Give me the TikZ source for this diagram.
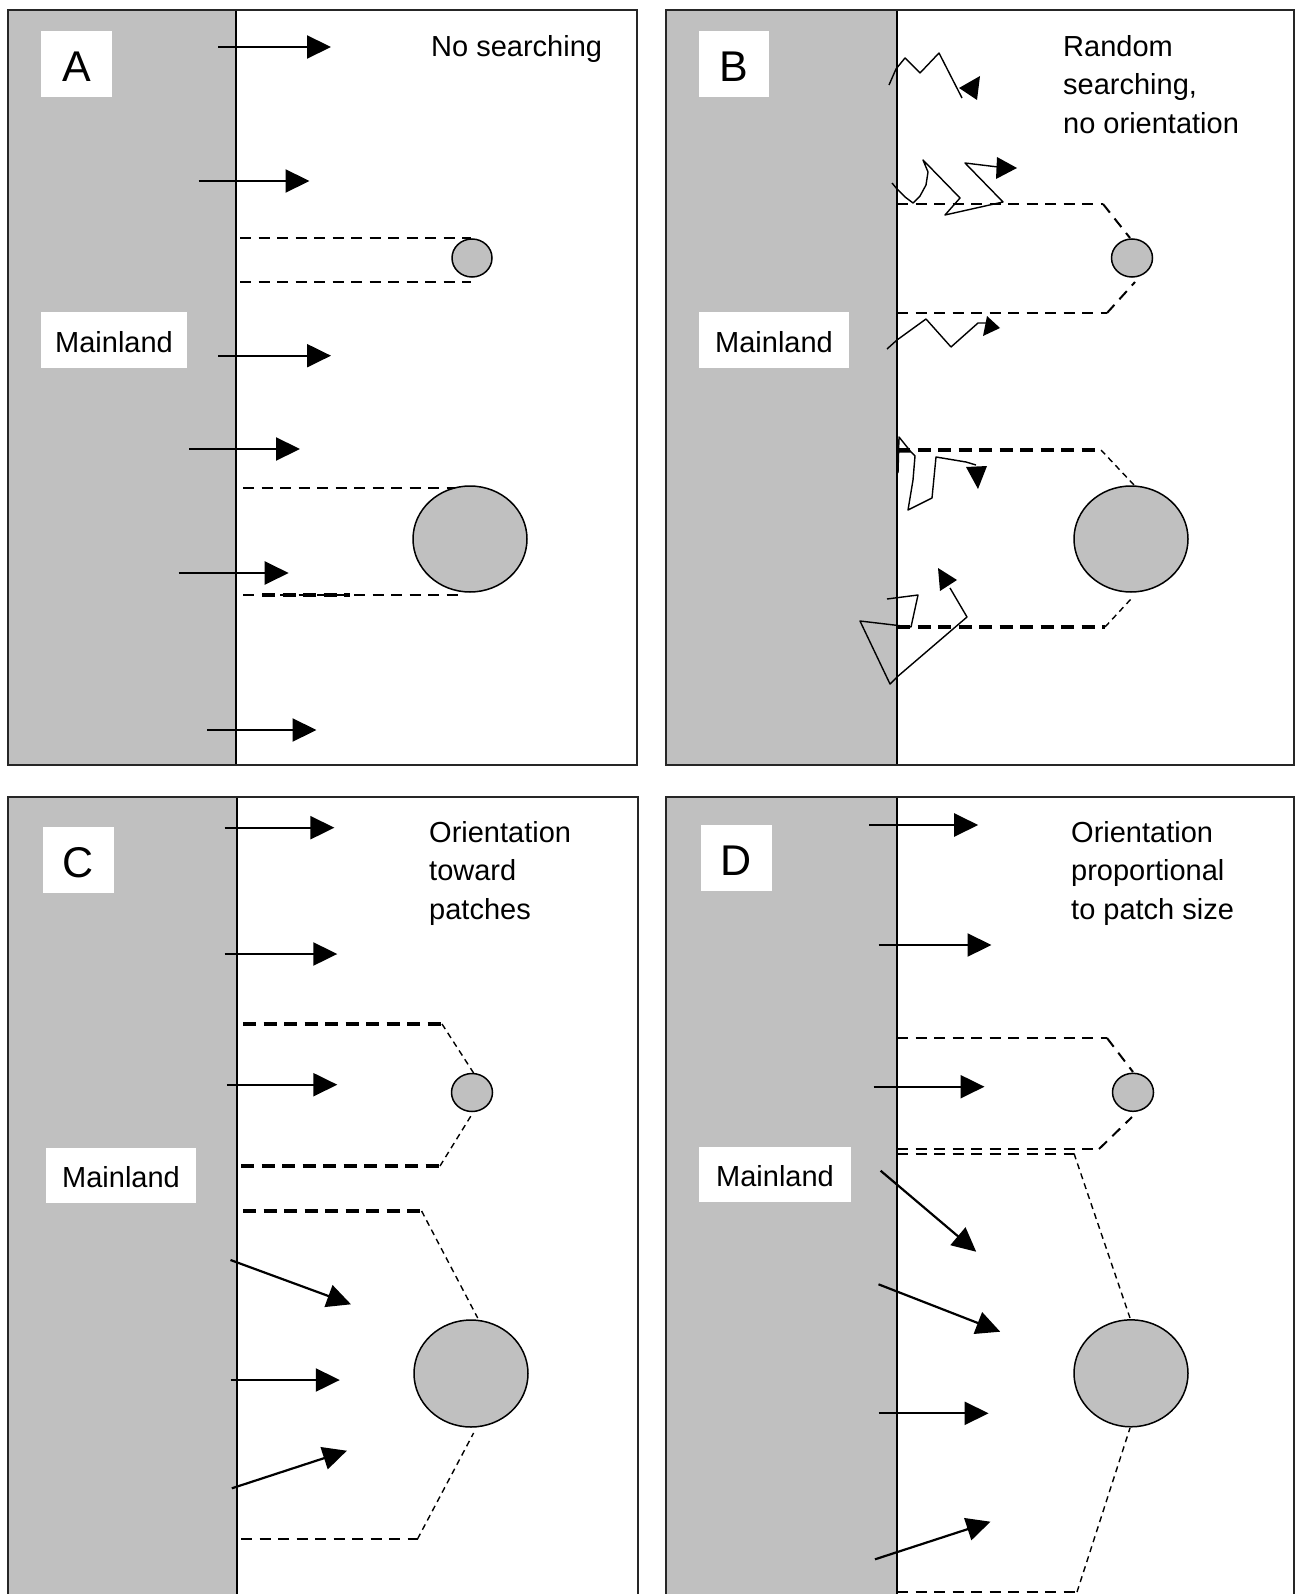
\documentclass[tikz,border=0pt]{standalone}
\usepackage{fontspec}
\setmainfont{Liberation Sans}
\usetikzlibrary{arrows.meta}
\definecolor{landgray}{RGB}{192,192,192}
\newcommand{\lowerby}[2]{\raisebox{-#1}[\height][\depth]{#2}}
\begin{document}
\begin{tikzpicture}[x=1pt,y=-1pt,
  panel/.style={draw=black!85,line width=2pt},
  land/.style={fill=landgray},
  coast/.style={line width=2pt},
  patch/.style={fill=landgray,draw=black,line width=1.5pt},
  edge/.style={dash pattern=on 11pt off 7.5pt,line width=2pt},
  thickedge/.style={dash pattern=on 13pt off 7.5pt,line width=3.8pt},
  thinedge/.style={dash pattern=on 6pt off 4.5pt,line width=1.4pt},
  move/.style={line width=2.2pt,-{Triangle[length=24pt,width=23pt]}},
  walk/.style={line width=1.4pt,line join=round},
  walkhead/.style={fill=black},
  lbl/.style={fill=white,font=\fontsize{43}{50}\selectfont,inner sep=0pt},
  ml/.style={fill=white,font=\fontsize{29}{36}\selectfont,inner sep=0pt},
  caption/.style={font=\fontsize{29}{38.7}\selectfont,align=left,inner sep=0pt,anchor=base west}]
\clip (0,0) rectangle (1296,1594);
\fill[white] (0,0) rectangle (1296,1594);

% ---------- Panel A ----------
\fill[land] (8,10) rectangle (236,765);
\draw[edge] (240,238) -- (471,238);
\draw[edge] (240,282) -- (471,282);
\draw[edge] (243,488) -- (460,488);
\draw[edge] (243,595) -- (462,595);
\draw[thickedge] (262,595) -- (350,595);
\draw[patch] (472,258) ellipse [x radius=20pt,y radius=19pt];
\draw[patch] (470,539) ellipse [x radius=57pt,y radius=53pt];
\draw[move] (218,47) -- (331,47);
\draw[move] (198.6,181) -- (309.5,181);
\draw[move] (218,355.7) -- (331,355.7);
\draw[move] (189.4,449) -- (300,449);
\draw[move] (178.6,573) -- (288.7,573);
\draw[move] (207,730) -- (316.5,730);
\draw[coast] (236,10) -- (236,765);
\draw[panel] (8,10) rectangle (637,765);
\node[lbl,minimum width=71pt,minimum height=66pt] (labA) at (76.5,64) {\lowerby{3pt}{A}};
\node[ml,minimum width=146pt,minimum height=56pt] (mainA) at (114,340) {\lowerby{2pt}{Mainland}};
\node[caption] (capA) at (431,56.5) {No searching};

% ---------- Panel B ----------
\fill[land] (666,10) rectangle (897,765);
\draw[edge] (897,204) -- (1103,204);
\draw[edge] (1103,204) -- (1130,238);
\draw[edge] (897,313) -- (1107,313);
\draw[edge] (1107,313) -- (1135,282);
\draw[thickedge] (897,450) -- (1101,450);
\draw[thinedge] (1101,450) -- (1134,485);
\draw[thickedge] (897,627) -- (1105,627);
\draw[thinedge] (1105,627) -- (1131,599);
\draw[patch] (1132,258) ellipse [x radius=20.5pt,y radius=19pt];
\draw[patch] (1131,539) ellipse [x radius=57pt,y radius=53pt];
% random walks
\draw[walk] (889,85) -- (896,69) -- (905,58) -- (920,73) -- (939,53) -- (962,98);
\fill[walkhead] (959,88) -- (980,76) -- (977,100) -- cycle;
\draw[walk] (892,183) -- (897,189) -- (905,197) -- (913,203) -- (920,196) -- (926,185) -- (928,172) -- (923,160) -- (960,198) -- (945,215) -- (1003,202) -- (965,163) -- (998,167);
\fill[walkhead] (997,157) -- (1017,168) -- (996,179) -- cycle;
\draw[walk] (887,349) -- (897,340) -- (926,319) -- (951,347) -- (978,323) -- (988,323);
\fill[walkhead] (987,316) -- (1000,328) -- (983,336) -- cycle;
\draw[walk] (898,473) -- (899,437) -- (911,452) -- (899,452);
\draw[walk] (911,452) -- (915,456) -- (913,480) -- (908,510) -- (932,498) -- (936,457) -- (966,462) -- (976,465);
\fill[walkhead] (966,467) -- (987,466) -- (978,489) -- cycle;
\draw[walk] (887,599) -- (918,595) -- (911,627) -- (860,621) -- (890,684) -- (897,677) -- (967,617) -- (950,588);
\fill[walkhead] (938,568) -- (957,580) -- (940,591) -- cycle;
\draw[coast] (897,10) -- (897,765);
\draw[panel] (666,10) rectangle (1294,765);
\node[lbl,minimum width=70pt,minimum height=66pt] (labB) at (734,64) {\lowerby{3pt}{B}};
\node[ml,minimum width=150pt,minimum height=56pt] (mainB) at (774,340) {\lowerby{2pt}{Mainland}};
\node[caption] (capB) at (1063,133.5) {Random\\searching,\\no orientation};

% ---------- Panel C ----------
\fill[land] (8,797) rectangle (237,1620);
\draw[thickedge] (243,1024) -- (442,1024);
\draw[thinedge] (442,1024) -- (473.6,1073);
\draw[thickedge] (241,1166) -- (440,1166);
\draw[thinedge] (440,1166) -- (471.5,1115);
\draw[thickedge] (243,1211) -- (421.6,1211);
\draw[thinedge] (421.6,1211) -- (477.7,1318);
\draw[edge] (241,1539) -- (417.5,1539);
\draw[thinedge] (417.5,1539) -- (473.6,1433);
\draw[patch] (472,1092.5) ellipse [x radius=20.5pt,y radius=19pt];
\draw[patch] (471,1373.5) ellipse [x radius=57pt,y radius=53.5pt];
\draw[move] (224.7,827.7) -- (334.4,827.7);
\draw[move] (224.7,954) -- (337.3,954);
\draw[move] (226.8,1084.7) -- (337.3,1084.7);
\draw[move] (230.5,1260) -- (351,1304.3);
\draw[move] (230.5,1380) -- (339.8,1380);
\draw[move] (231.8,1488.3) -- (346.9,1450.7);
\draw[coast] (237,797) -- (237,1620);
\draw[panel] (8,797) rectangle (638,1620);
\node[lbl,minimum width=71pt,minimum height=66pt] (labC) at (78.5,860) {\lowerby{3pt}{C}};
\node[ml,minimum width=150pt,minimum height=55pt] (mainC) at (121,1175.5) {\lowerby{2pt}{Mainland}};
\node[caption] (capC) at (429,919.5) {Orientation\\toward\\patches};

% ---------- Panel D ----------
\fill[land] (666,797) rectangle (897,1620);
\draw[edge] (897,1038) -- (1107,1038);
\draw[edge] (1107,1038) -- (1133,1072);
\draw[edge] (897,1149) -- (1099,1149);
\draw[edge] (1099,1149) -- (1132,1117);
\draw[edge] (897,1153.5) -- (1074,1153.5);
\draw[thinedge] (1074,1153.5) -- (1130,1318);
\draw[edge] (897,1592) -- (1077,1592);
\draw[thinedge] (1077,1592) -- (1130,1428);
\draw[patch] (1133,1092.3) ellipse [x radius=20.5pt,y radius=19pt];
\draw[patch] (1131,1373.3) ellipse [x radius=57pt,y radius=53.5pt];
\draw[move] (869.4,825) -- (978.2,825);
\draw[move] (878.5,945) -- (991.5,945);
\draw[move] (873.6,1086.7) -- (984.5,1086.7);
\draw[move] (880.6,1170.7) -- (976.2,1251.7);
\draw[move] (878.5,1284.3) -- (1000.2,1331.7);
\draw[move] (878.5,1413.3) -- (988.6,1413.3);
\draw[move] (875,1559.3) -- (990.5,1521.7);
\draw[coast] (897,797) -- (897,1620);
\draw[panel] (666,797) rectangle (1294,1620);
\node[lbl,minimum width=71pt,minimum height=66pt] (labD) at (736.5,857.5) {\lowerby{3pt}{D}};
\node[ml,minimum width=152pt,minimum height=55pt] (mainD) at (775,1174.5) {\lowerby{2pt}{Mainland}};
\node[caption] (capD) at (1071,919.5) {Orientation\\proportional\\to patch size};
\end{tikzpicture}
\end{document}
